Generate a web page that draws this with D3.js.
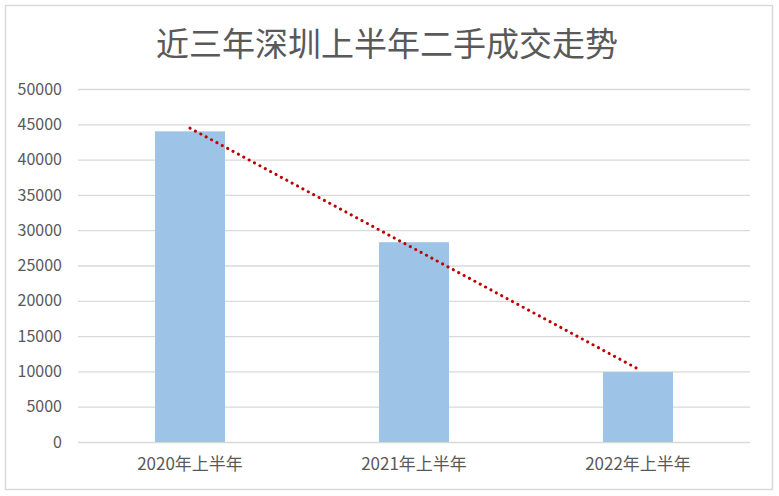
<!DOCTYPE html>
<html><head><meta charset="utf-8">
<script src="https://cdn.jsdelivr.net/npm/d3@7"></script>
<style>body{margin:0;background:#fff}</style></head>
<body><svg id="c" width="779" height="496"></svg>
<script>
const categories = ["2020年上半年","2021年上半年","2022年上半年"];
const values = [44000, 28300, 9900];
const yTicks = [0,5000,10000,15000,20000,25000,30000,35000,40000,45000,50000];
const title = "近三年深圳上半年二手成交走势";

const svg = d3.select("#c");
const font = "'Noto Sans CJK SC','Noto Sans',sans-serif";
svg.append("rect").attr("x",5.5).attr("y",5.5).attr("width",767).attr("height",484)
  .attr("fill","#fff").attr("stroke","#d9d9d9").attr("stroke-width",1.5);
const L=78,R=750,T=89,B=442;
const x = d3.scaleBand().domain(categories).range([L,R]);
const y = d3.scaleLinear().domain([0,50000]).range([B,T]);
svg.append("text").attr("x",387).attr("y",56).attr("text-anchor","middle")
  .attr("font-family",font).attr("font-size",33).attr("fill","#595959").text(title);
const ga = svg.append("g").attr("transform",`translate(${L},0)`)
  .call(d3.axisLeft(y).tickValues(yTicks).tickSize(-(R-L)).tickPadding(16).tickFormat(d3.format("d")));
ga.select(".domain").remove();
ga.selectAll("line").attr("stroke","#d9d9d9").attr("stroke-width",1.3);
ga.selectAll("text").attr("font-family",font).attr("font-size",16).attr("fill","#595959");
const gx = svg.append("g").attr("transform",`translate(0,${B})`)
  .call(d3.axisBottom(x).tickSize(0).tickPadding(16));
gx.select(".domain").remove();
gx.selectAll("text").attr("font-family",font).attr("font-size",17).attr("fill","#595959");
const bw=70;
svg.selectAll(".bar").data(values).join("rect")
  .attr("x",(d,i)=>x(categories[i])+x.bandwidth()/2-bw/2).attr("width",bw)
  .attr("y",d=>y(d)).attr("height",d=>B-y(d)).attr("fill","#9dc3e6");
// linear trendline
const n=values.length, mx=(n-1)/2, my=d3.mean(values);
let sxy=0,sxx=0; values.forEach((v,i)=>{sxy+=(i-mx)*(v-my);sxx+=(i-mx)**2;});
const slope=sxy/sxx, icpt=my-slope*mx;
const cx=i=>x(categories[i])+x.bandwidth()/2;
svg.append("line").attr("x1",cx(0)).attr("y1",y(icpt)).attr("x2",cx(n-1)).attr("y2",y(icpt+slope*(n-1)))
  .attr("stroke","#c00000").attr("stroke-width",3).attr("stroke-dasharray","0.1 6").attr("stroke-linecap","round");
</script></body></html>
